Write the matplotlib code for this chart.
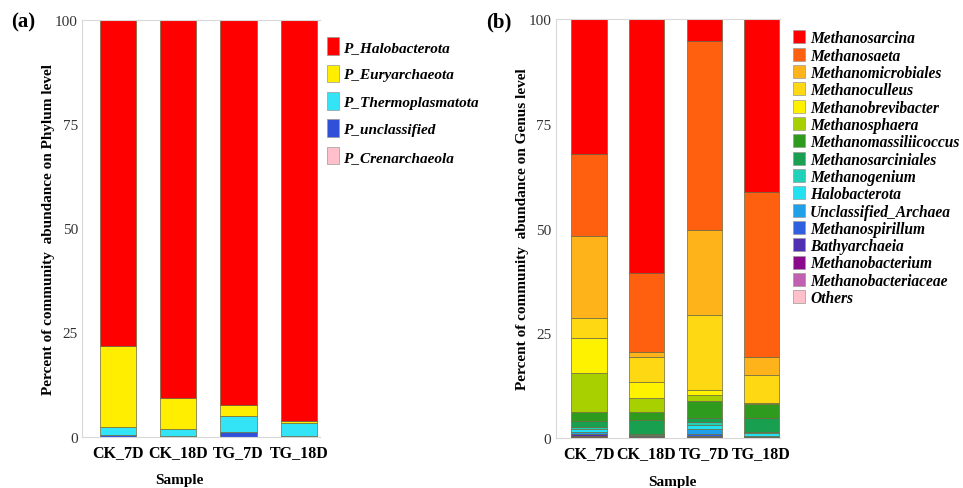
import matplotlib.pyplot as plt
from matplotlib.patches import Patch

plt.rcParams['font.family'] = ['Liberation Serif', 'DejaVu Serif']

samples = ['CK_7D', 'CK_18D', 'TG_7D', 'TG_18D']

# phylum level, top of stack first
phylum_names = ['P_Halobacterota', 'P_Euryarchaeota', 'P_Thermoplasmatota',
                'P_unclassified', 'P_Crenarchaeola']
phylum_colors = ['#FF0000', '#FFEE00', '#33E4F6', '#3050D8', '#FFC0CB']
halobacterota = [78.3, 90.8, 92.3, 96.3]
euryarchaeota = [19.5, 7.3, 2.8, 0.5]
thermoplasmatota = [1.9, 1.8, 3.9, 3.1]
p_unclassified = [0.3, 0.1, 1.0, 0.1]
crenarchaeola = [0.0, 0.0, 0.0, 0.0]
phylum_vals = [halobacterota, euryarchaeota, thermoplasmatota,
               p_unclassified, crenarchaeola]

# genus level, top of stack first
genus_names = ['Methanosarcina', 'Methanosaeta', 'Methanomicrobiales',
               'Methanoculleus', 'Methanobrevibacter', 'Methanosphaera',
               'Methanomassiliicoccus', 'Methanosarciniales', 'Methanogenium',
               'Halobacterota', 'Unclassified_Archaea', 'Methanospirillum',
               'Bathyarchaeia', 'Methanobacterium', 'Methanobacteriaceae', 'Others']
genus_colors = ['#FF0000', '#FF6010', '#FFB31A', '#FFD814', '#FFF200', '#A8D000',
                '#2E9A1E', '#18A050', '#20D0B8', '#22E2F2', '#20A0E8', '#3060E0',
                '#5030B0', '#8B0A8B', '#C060B0', '#FFC0CB']
methanosarcina = [32.6, 60.6, 5.2, 41.2]
methanosaeta = [19.6, 18.7, 45.2, 39.5]
methanomicrobiales = [19.7, 1.2, 20.2, 4.3]
methanoculleus = [4.8, 5.9, 17.9, 6.5]
methanobrevibacter = [8.2, 4.0, 1.2, 0.2]
methanosphaera = [9.4, 3.3, 1.4, 0.2]
methanomassiliicoccus = [2.1, 1.9, 4.2, 3.4]
methanosarciniales = [1.5, 3.3, 0.8, 3.2]
methanogenium = [0.4, 0.1, 0.7, 0.3]
g_halobacterota = [0.8, 0.1, 1.1, 0.6]
unclassified_archaea = [0.3, 0.1, 1.0, 0.2]
methanospirillum = [0.2, 0.1, 0.6, 0.1]
bathyarchaeia = [0.5, 0.4, 0.2, 0.1]
methanobacterium = [0.1, 0.1, 0.1, 0.1]
methanobacteriaceae = [0.1, 0.05, 0.1, 0.05]
others = [0.2, 0.05, 0.1, 0.05]
genus_vals = [methanosarcina, methanosaeta, methanomicrobiales, methanoculleus,
              methanobrevibacter, methanosphaera, methanomassiliicoccus,
              methanosarciniales, methanogenium, g_halobacterota,
              unclassified_archaea, methanospirillum, bathyarchaeia,
              methanobacterium, methanobacteriaceae, others]

fig = plt.figure(figsize=(9.63, 4.89), dpi=100)
ax1 = fig.add_axes([0.0852, 0.105, 0.247, 0.853])
ax2 = fig.add_axes([0.577, 0.102, 0.233, 0.857])


def stacked(ax, vals, colors, width):
    x = range(len(samples))
    bottom = [0.0] * len(samples)
    # draw from bottom of stack (last in list) upward
    for v, c in zip(reversed(vals), reversed(colors)):
        ax.bar(x, v, width, bottom=bottom, color=c, edgecolor='#6a6a40', linewidth=0.5)
        bottom = [b + a for b, a in zip(bottom, v)]


stacked(ax1, phylum_vals, phylum_colors, 0.6)
stacked(ax2, genus_vals, genus_colors, 0.61)

for ax, lab in [(ax1, 'Percent of community  abundance on Phylum level'),
                (ax2, 'Percent of community  abundance on Genus level')]:
    ax.set_ylim(0, 100)
    ax.set_yticks([0, 25, 50, 75, 100])
    ax.set_xticks(range(len(samples)))
    ax.set_xticklabels(samples, fontsize=11.5, fontweight='bold')
    ax.tick_params(axis='y', labelsize=11, length=0, pad=3, colors='#333333')
    ax.tick_params(axis='x', length=0, pad=5)
    ax.set_ylabel(lab, fontsize=11, fontweight='bold', labelpad=0)
    ax.set_xlabel('Sample', fontsize=11, fontweight='bold')
    for s in ['left', 'top', 'bottom']:
        ax.spines[s].set_color('#d8d8d8')
        ax.spines[s].set_linewidth(0.8)
    ax.spines['right'].set_visible(False)

ax1.set_xlim(-0.59, 3.35)
ax2.set_xlim(-0.58, 3.32)
ax1.xaxis.set_label_coords(0.41, -0.087)
ax2.xaxis.set_label_coords(0.52, -0.087)

fig.text(0.012, 0.955, '(a)', fontsize=15, fontweight='bold', va='center')
fig.text(0.505, 0.955, '(b)', fontsize=15, fontweight='bold', va='center')

h1 = [Patch(facecolor=c, edgecolor='#999999', linewidth=0.5) for c in phylum_colors]
fig.legend(h1, phylum_names, loc='upper left', bbox_to_anchor=(0.3396, 0.922),
           frameon=False, handlelength=0.8, handleheight=1.4, handletextpad=0.25,
           labelspacing=0.64, borderaxespad=0, borderpad=0,
           prop={'family': 'Liberation Serif', 'style': 'italic',
                 'weight': 'bold', 'size': 11})

h2 = [Patch(facecolor=c, edgecolor='#999999', linewidth=0.5) for c in genus_colors]
fig.legend(h2, genus_names, loc='upper left', bbox_to_anchor=(0.8235, 0.936),
           frameon=False, handlelength=0.75, handleheight=0.9, handletextpad=0.35,
           labelspacing=0.085, borderaxespad=0, borderpad=0,
           prop={'family': 'Liberation Serif', 'style': 'italic',
                 'weight': 'bold', 'size': 11.2})

fig.savefig('out.png', dpi=100)
